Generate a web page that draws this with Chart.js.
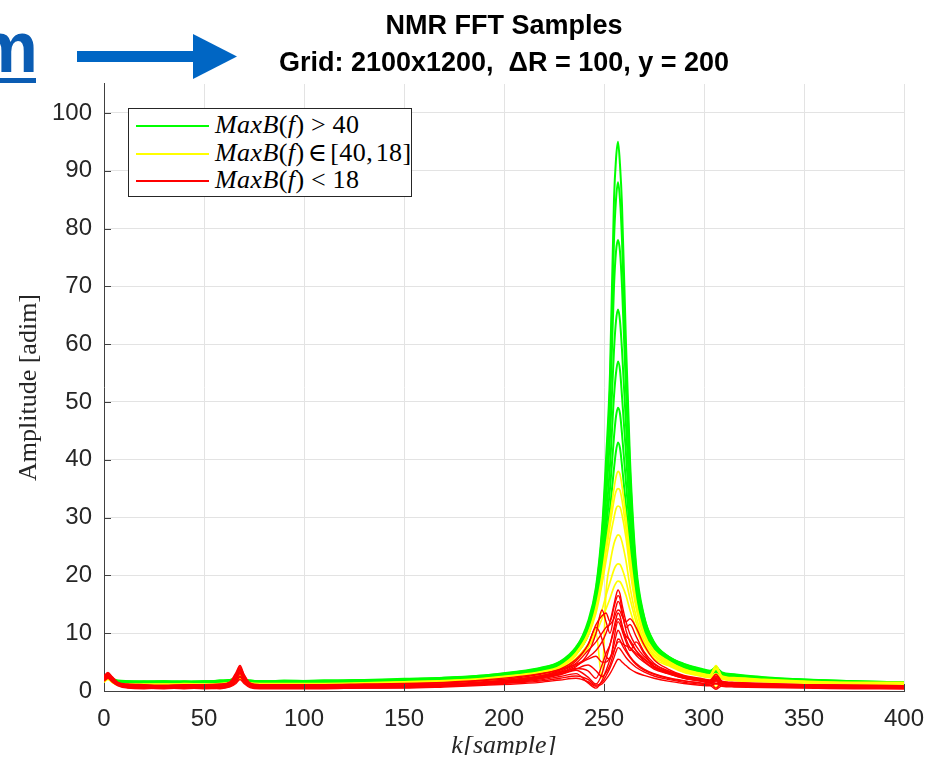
<!DOCTYPE html>
<html>
<head>
<meta charset="utf-8">
<script src="https://cdn.jsdelivr.net/npm/chart.js@4.4.0/dist/chart.umd.min.js"></script>
<style>
  html, body { margin: 0; padding: 0; background: #fff; }
  #wrap { position: relative; width: 930px; height: 762px; overflow: hidden; }
  #mychart { position: absolute; left: 0; top: 0; }
  #deco { position: absolute; left: 0; top: 0; }
  #legend { position: absolute; left: 128px; top: 108px; width: 282px; height: 87px;
            border: 1px solid #262626; background: #fff; color: #000;
            font-family: 'Liberation Serif', 'DejaVu Serif', serif; font-size: 26px; }
  .row { position: absolute; left: 0; width: 280px; height: 28px; line-height: 28px; white-space: nowrap; }
  .swatch { position: absolute; left: 7px; top: 14px; width: 73px; height: 2px; }
  .txt { position: absolute; left: 86px; top: 0; letter-spacing: 0.4px; }
  .rel { padding: 0 0.25em; }
  .rel2 { padding: 0 0.12em; }
  #cut { position: absolute; left: 0; top: 755px; width: 930px; height: 7px; background: #fff; }
</style>
</head>
<body>
<div id="wrap">
  <canvas id="mychart" width="930" height="762"></canvas>
  <svg id="deco" width="250" height="90">
    <text x="38" y="72" text-anchor="end" font-family="'Liberation Sans', Arial, sans-serif"
          font-size="72" font-weight="bold" fill="#0a5cb3">m</text>
    <rect x="-30" y="78" width="66" height="5" fill="#0a5cb3"></rect>
    <rect x="77" y="51" width="118" height="11" fill="#0066c4"></rect>
    <polygon points="193,34 237,56.5 193,79" fill="#0066c4"></polygon>
  </svg>
  <div id="legend"></div>
  <div id="cut"></div>
</div>
<script>

var kSamples = [0, 2, 4, 7, 12, 20, 30, 40, 50, 58, 63, 66, 68, 70, 73, 78, 90,
  110, 130, 150, 170, 190, 205, 218, 228, 236,
  242, 246, 249, 251, 253, 255, 256, 257, 258, 259, 261, 263, 266, 270,
  275, 282, 290, 298, 303, 306, 309, 315, 330, 350, 375, 400];

// MaxB(f) > 40
var green1 = [2.0,2.5,2.1,1.7,1.6,1.5,1.6,1.5,1.7,1.7,1.8,2.2,2.6,2.1,1.7,1.6,1.6,
  1.7,1.8,2.0,2.2,2.6,3.1,3.8,4.8,7.4,
  12,18,28,40,55,85,92,95,91,84,60,40,22,13,
  8.5,6.0,4.6,3.7,3.3,3.9,3.0,2.7,2.3,1.9,1.6,1.4];
var green2 = [2.2,2.7,2.0,1.6,1.7,1.6,1.5,1.7,1.6,1.8,1.9,2.3,2.5,2.0,1.8,1.7,1.7,
  1.6,1.9,1.9,2.3,2.7,3.2,3.9,5.0,7.2,
  11.5,17,26,36,49,70,76,78,76,70,52,36,20,12.5,
  8.2,5.9,4.6,3.8,3.4,3.7,3.1,2.8,2.3,2.0,1.7,1.5];
var green3 = [1.9,2.4,1.9,1.6,1.5,1.6,1.7,1.6,1.5,1.6,1.8,2.1,2.4,2.0,1.7,1.5,1.8,
  1.7,1.7,2.0,2.2,2.5,3.0,3.7,4.7,7.0,
  11,16,24,33,44,59,64,66,64,59,46,33,19,12,
  8.0,5.8,4.3,3.6,3.2,4.2,2.9,2.6,2.2,1.8,1.6,1.3];
var green4 = [2.1,2.6,2.1,1.7,1.6,1.7,1.6,1.5,1.7,1.6,1.7,2.0,2.3,1.9,1.6,1.7,1.6,
  1.8,1.8,1.9,2.1,2.4,2.9,3.6,4.6,6.8,
  10.5,15.5,23,30,39,51,55,57,55.5,51,41,30,18.5,11.5,
  7.7,5.6,4.2,3.5,3.1,3.5,2.8,2.5,2.1,1.8,1.5,1.3];
var green5 = [1.8,2.3,1.8,1.5,1.5,1.4,1.5,1.6,1.5,1.6,1.7,2.0,2.3,1.9,1.6,1.5,1.5,
  1.6,1.7,1.8,2.0,2.4,2.8,3.5,4.4,6.6,
  10,15,22,28,35,44,47.5,49,48,44.5,36,27.5,17.5,11,
  7.4,5.5,4.1,3.4,3.0,3.6,2.7,2.4,2.0,1.7,1.5,1.2];
var green6 = [2.0,2.4,2.0,1.6,1.4,1.5,1.4,1.5,1.6,1.5,1.6,1.9,2.2,1.8,1.5,1.6,1.5,
  1.5,1.6,1.8,2.0,2.3,2.7,3.4,4.3,6.4,
  9.6,14.5,21,26,31.5,38.5,41.5,43,42,39,32,25,16.5,10.5,
  7.2,5.3,4.0,3.3,2.9,3.3,2.6,2.3,2.0,1.7,1.4,1.2];
var green7 = [2.1,2.6,2.2,1.8,1.7,1.6,1.7,1.6,1.6,1.8,1.9,2.2,2.4,2.0,1.8,1.7,1.7,
  1.8,1.9,2.1,2.3,2.7,3.3,4.0,5.1,7.6,
  11.5,17.5,27,38,52,78,85,88,85,78,56,38,21,12.8,
  8.3,6.0,4.7,3.9,3.5,4.0,3.2,2.9,2.4,2.0,1.7,1.5];

// MaxB(f) in [40, 18]
var yellow1 = [1.8,2.4,1.8,1.3,1.2,1.2,1.1,1.3,1.2,1.3,1.5,2.2,3.0,2.0,1.4,1.3,1.3,
  1.3,1.4,1.6,1.8,2.2,2.7,3.3,4.3,6.6,
  10,14.5,20,25,30,35,37,38,37.5,35.5,30,23.5,15.5,10,
  7.0,5.2,3.8,3.1,2.8,4.4,2.6,2.3,2.0,1.7,1.5,1.5];
var yellow2 = [1.6,2.2,1.6,1.1,1.0,1.1,1.2,1.0,1.1,1.2,1.4,1.9,2.6,1.8,1.2,1.1,1.2,
  1.2,1.3,1.5,1.7,2.0,2.5,3.1,4.0,6.2,
  9.5,13.5,18.5,22.5,26.5,30,31.5,32,31.8,30.5,26.5,21,14.5,9.5,
  6.7,5.0,3.6,2.9,2.6,3.8,2.4,2.1,1.8,1.6,1.4,1.3];
var yellow3 = [1.7,2.3,1.7,1.2,1.1,1.0,1.1,1.2,1.0,1.1,1.3,2.0,2.8,1.9,1.3,1.2,1.1,
  1.1,1.2,1.4,1.6,2.0,2.4,3.0,3.8,5.6,
  8,10,2.2,17,22,25.5,26.5,27,26.8,25.8,22.5,18,13,8.8,
  6.3,4.8,3.5,2.8,2.5,0.6,2.3,2.0,1.7,1.5,1.3,1.2];
var yellow4 = [1.5,2.1,1.5,1.0,0.9,1.0,1.0,0.9,1.0,1.0,1.2,1.8,2.4,1.6,1.1,1.0,1.0,
  1.0,1.1,1.3,1.5,1.9,2.3,2.9,3.6,5.6,
  8,11,14,16.5,18.8,21,21.7,22,21.9,21.2,19,16,12,8.3,
  6.0,4.6,3.3,2.7,2.4,3.0,2.2,1.9,1.6,1.4,1.3,1.1];
var yellow5 = [1.6,2.0,1.6,1.1,1.0,0.9,1.0,1.1,0.9,1.1,1.3,1.7,2.2,1.5,1.1,1.0,1.1,
  1.1,1.2,1.2,1.4,1.8,2.2,2.7,3.4,5.3,
  7.5,10,12.5,14.2,16,18,18.7,19,18.9,18.3,16.5,14,10.8,7.7,
  5.6,4.4,3.2,2.6,2.3,2.8,2.1,1.8,1.6,1.4,1.2,1.1];
var yellow6 = [1.7,2.2,1.7,1.2,1.1,1.1,1.2,1.1,1.1,1.2,1.4,2.0,2.5,1.8,1.3,1.2,1.2,
  1.2,1.3,1.5,1.7,2.1,2.6,3.2,4.1,6.4,
  9.8,14,19,24,28.5,33,34.5,35,34.7,33,28,22,15,9.7,
  6.9,5.1,3.7,3.0,2.7,4.0,2.5,2.2,1.9,1.6,1.4,1.4];

// MaxB(f) < 18
var red1 = [2.4,3.1,2.3,1.4,1.0,0.9,0.8,0.9,0.8,1.0,1.4,2.8,4.2,2.6,1.2,0.9,0.9,
  0.8,0.9,1.0,1.2,1.6,2.0,2.6,3.4,4.6,
  5.8,7.0,8.5,10,12,15,16.5,17.5,16.8,15,12,9.8,7.8,6.0,
  4.6,3.5,2.6,2.1,1.8,2.6,1.6,1.4,1.2,1.0,0.9,0.8];
var red2 = [2.2,2.8,2.0,1.2,0.8,0.7,0.8,0.7,0.9,0.8,1.1,2.2,3.6,2.2,1.0,0.8,0.7,
  0.8,0.9,0.9,1.1,1.5,1.9,2.5,3.2,4.2,
  6.5,10,14,12,10,13,14.5,15.5,15,13.5,11,11.5,9.5,6.8,
  4.8,3.4,2.5,2.0,1.7,1.2,1.5,1.3,1.1,0.9,0.8,0.7];
var red3 = [2.0,2.6,1.9,1.1,0.7,0.6,0.7,0.6,0.7,0.8,1.0,1.9,3.2,2.0,0.9,0.7,0.6,
  0.7,0.8,0.8,1.0,1.3,1.6,2.1,2.8,3.6,
  2.4,1.2,3,5.5,8,11,12.5,13.5,13,11.5,9,7.5,6.2,5,
  3.8,3.0,2.2,1.7,1.4,2.0,1.3,1.1,0.9,0.8,0.7,0.6];
var red4 = [2.3,3.0,2.2,1.3,0.9,0.8,0.7,0.8,0.7,0.9,1.2,2.5,3.8,2.4,1.1,0.8,0.8,
  0.9,0.8,1.0,1.2,1.5,1.9,2.6,3.6,5.2,
  8,11,9,6,5.5,9,11,12,11.5,10.5,8.5,7,8.5,6.5,
  4.2,3.1,2.3,1.8,1.5,0.5,1.4,1.2,1.0,0.9,0.8,0.7];
var red5 = [1.8,2.4,1.7,1.0,0.6,0.5,0.5,0.6,0.5,0.6,0.9,1.6,2.6,1.6,0.8,0.6,0.5,
  0.5,0.6,0.7,0.9,1.2,1.5,1.9,2.5,3.0,
  1.4,0.5,1.8,3.5,5.5,8,9.5,10.5,10,9,7.2,6,4.8,3.8,
  3.0,2.3,1.8,1.4,1.2,1.6,1.1,0.9,0.8,0.7,0.6,0.5];
var red6 = [2.1,2.7,2.0,1.2,0.8,0.7,0.6,0.7,0.6,0.7,1.0,2.0,3.0,1.9,0.9,0.7,0.6,
  0.6,0.7,0.8,1.0,1.3,1.7,2.2,2.9,3.8,
  4.5,3.5,2.5,3.2,4.5,6.8,8,9,8.8,8,6.8,5.8,4.6,3.6,
  2.9,2.2,1.7,1.4,1.2,1.8,1.1,1.0,0.9,0.8,0.7,0.6];
var red7 = [2.5,3.0,2.4,1.4,1.1,1.0,0.9,1.0,1.0,1.1,1.5,3.0,4.0,2.8,1.3,1.0,1.0,
  1.0,1.1,1.2,1.4,1.8,2.2,2.9,3.7,4.8,
  7,8.5,10,11,11.5,12.5,13.5,14,13.8,13,12,12.5,11,8,
  5.4,3.8,2.7,2.2,1.9,2.9,1.7,1.5,1.3,1.1,1.0,0.9];
var red8 = [1.9,2.5,1.8,1.0,0.6,0.5,0.4,0.5,0.4,0.5,0.8,1.5,2.4,1.5,0.7,0.5,0.5,
  0.5,0.5,0.6,0.8,1.1,1.4,1.7,2.2,2.6,
  2,1,1.5,2.6,4,5.8,6.8,7.5,7.3,6.8,5.8,5,4.1,3.3,
  2.6,2.0,1.5,1.2,1.0,0.3,0.9,0.8,0.7,0.6,0.5,0.4];
var red9 = [1.7,2.2,1.6,0.9,0.5,0.4,0.5,0.4,0.5,0.4,0.7,1.3,2.0,1.3,0.6,0.4,0.4,
  0.4,0.5,0.5,0.7,1.0,1.2,1.5,1.9,2.2,
  1.6,0.8,1.2,2.0,3.0,4.3,5,5.5,5.4,5,4.4,3.8,3.2,2.7,
  2.2,1.7,1.3,1.0,0.9,1.3,0.8,0.7,0.6,0.5,0.4,0.4];
var red10 = [2.6,3.2,2.5,1.5,1.2,1.1,1.0,1.1,1.1,1.2,1.6,3.2,4.4,2.9,1.4,1.1,1.1,
  1.1,1.2,1.3,1.5,1.9,2.4,3.0,3.8,5.5,
  8,11.5,13,13.5,12,14.5,15.8,16.5,16,14,10.5,8.5,7,5.6,
  4.3,3.3,2.4,2.0,1.7,2.4,1.6,1.4,1.2,1.1,1.0,0.9];
var red11 = [2.2,2.9,2.1,1.2,0.9,0.8,0.7,0.8,0.8,0.9,1.2,2.4,3.4,2.3,1.0,0.8,0.8,
  0.8,0.9,1.0,1.1,1.4,1.8,2.3,3.0,3.9,
  3.5,2.2,4.5,6.5,8,10.5,11.8,12.5,12.2,11,9.5,8.8,7,5.2,
  4.0,3.0,2.2,1.8,1.5,2.2,1.4,1.2,1.0,0.9,0.8,0.7];
var red12 = [2.0,2.7,1.9,1.1,0.8,0.7,0.8,0.7,0.7,0.8,1.1,2.1,3.1,2.1,0.9,0.8,0.7,
  0.7,0.8,0.9,1.1,1.4,1.8,2.4,3.2,4.4,
  5.5,6,5,5,5.8,7,7.8,8.5,8.5,8.2,7.8,7.5,6.5,5.5,
  4.2,3.2,2.3,1.8,1.5,1.9,1.4,1.2,1.0,0.9,0.8,0.6];

var greenLines = [green1, green2, green3, green4, green5, green6, green7];
var yellowLines = [yellow1, yellow2, yellow3, yellow4, yellow5, yellow6];
var redLines = [red1, red2, red3, red4, red5, red6, red7, red8, red9, red10, red11, red12];

var classColors = ['#00ff00', '#ffff00', '#ff0000'];
var classWidths = [2, 1.7, 1.4];
var classLabels = [
  '<i>MaxB</i>(<i>f</i>)<span class="rel">&gt;</span>40',
  '<i>MaxB</i>(<i>f</i>)<span class="rel2">&isin;</span>[40,<span style="padding-left:0.1em"></span>18]',
  '<i>MaxB</i>(<i>f</i>)<span class="rel">&lt;</span>18'
];

var xTitle = 'k[sample]';
var yTitle = 'Amplitude [adim]';
var chartTitle = ['NMR FFT Samples', 'Grid: 2100x1200,  \u0394R = 100, y = 200'];

var sansFont = "'Liberation Sans', Arial, Helvetica, sans-serif";
var serifFont = "'Liberation Serif', 'Times New Roman', serif";

function makeSet(values, cls, order, label) {
  return {
    label: label,
    data: kSamples.map(function (k, i) { return { x: k, y: values[i] }; }),
    borderColor: classColors[cls],
    backgroundColor: classColors[cls],
    borderWidth: classWidths[cls],
    pointRadius: 0,
    fill: false,
    order: order,
    cubicInterpolationMode: 'monotone'
  };
}

var datasets = [];
greenLines.forEach(function (v) { datasets.push(makeSet(v, 0, 3, 'MaxB(f) > 40')); });
yellowLines.forEach(function (v) { datasets.push(makeSet(v, 1, 2, 'MaxB(f) in [40,18]')); });
redLines.forEach(function (v) { datasets.push(makeSet(v, 2, 1, 'MaxB(f) < 18')); });

// matlab style ticks, pointing into the axes
var innerTicks = {
  id: 'innerTicks',
  afterDatasetsDraw: function (chart) {
    var ctx = chart.ctx, a = chart.chartArea, x = chart.scales.x, y = chart.scales.y;
    ctx.save();
    ctx.strokeStyle = '#404040';
    ctx.lineWidth = 1;
    ctx.beginPath();
    x.ticks.forEach(function (t) {
      var px = Math.round(x.getPixelForValue(t.value)) + 0.5;
      ctx.moveTo(px, a.bottom);
      ctx.lineTo(px, a.bottom - 7);
    });
    y.ticks.forEach(function (t) {
      var py = Math.round(y.getPixelForValue(t.value)) + 0.5;
      ctx.moveTo(a.left, py);
      ctx.lineTo(a.left + 7, py);
    });
    ctx.stroke();
    ctx.restore();
  }
};

var legendBox = document.getElementById('legend');
classLabels.forEach(function (lab, i) {
  var row = document.createElement('div');
  row.className = 'row';
  row.style.top = Math.round(2 + i * 27.5) + 'px';
  row.innerHTML = '<div class="swatch" style="background:' + classColors[i] + '"></div><div class="txt">' + lab + '</div>';
  legendBox.appendChild(row);
});

var ctx = document.getElementById('mychart').getContext('2d');

var nmrChart = new Chart(ctx, {
  type: 'line',
  data: { datasets: datasets },
  plugins: [innerTicks],
  options: {
    responsive: false,
    animation: false,
    devicePixelRatio: 1,
    layout: { padding: { left: 0, right: 26, top: 0, bottom: 0 } },
    plugins: {
      legend: { display: false },
      tooltip: { enabled: false },
      title: {
        display: true,
        fullSize: false,
        text: chartTitle,
        color: '#000',
        font: { family: sansFont, size: 27, weight: 'bold', lineHeight: 1.37 },
        padding: { top: 8, bottom: 2 }
      }
    },
    scales: {
      x: {
        type: 'linear',
        min: 0,
        max: 400,
        ticks: { stepSize: 50, includeBounds: false, maxRotation: 0, color: '#262626', padding: 14,
                 font: { family: sansFont, size: 24 } },
        grid: { color: '#e3e3e3', drawTicks: false },
        border: { color: '#404040', width: 1 },
        title: { display: true, text: xTitle, color: '#262626',
                 font: { family: serifFont, size: 26, style: 'italic', lineHeight: 1.2 },
                 padding: { top: 0, bottom: 0 } },
        afterFit: function (s) { s.height = 71; s.paddingLeft = 0; s.paddingRight = 0; }
      },
      y: {
        type: 'linear',
        min: 0,
        max: 105,
        ticks: { stepSize: 10, includeBounds: false, color: '#262626', padding: 12,
                 font: { family: sansFont, size: 24 } },
        grid: { color: '#e3e3e3', drawTicks: false },
        border: { color: '#404040', width: 1 },
        title: { display: true, text: yTitle, color: '#262626',
                 font: { family: serifFont, size: 26, lineHeight: 1.2 },
                 padding: { top: 14, bottom: 0 } },
        afterFit: function (s) { s.width = 104; s.paddingTop = 0; s.paddingBottom = 0; }
      }
    }
  }
});

</script>
</body>
</html>
